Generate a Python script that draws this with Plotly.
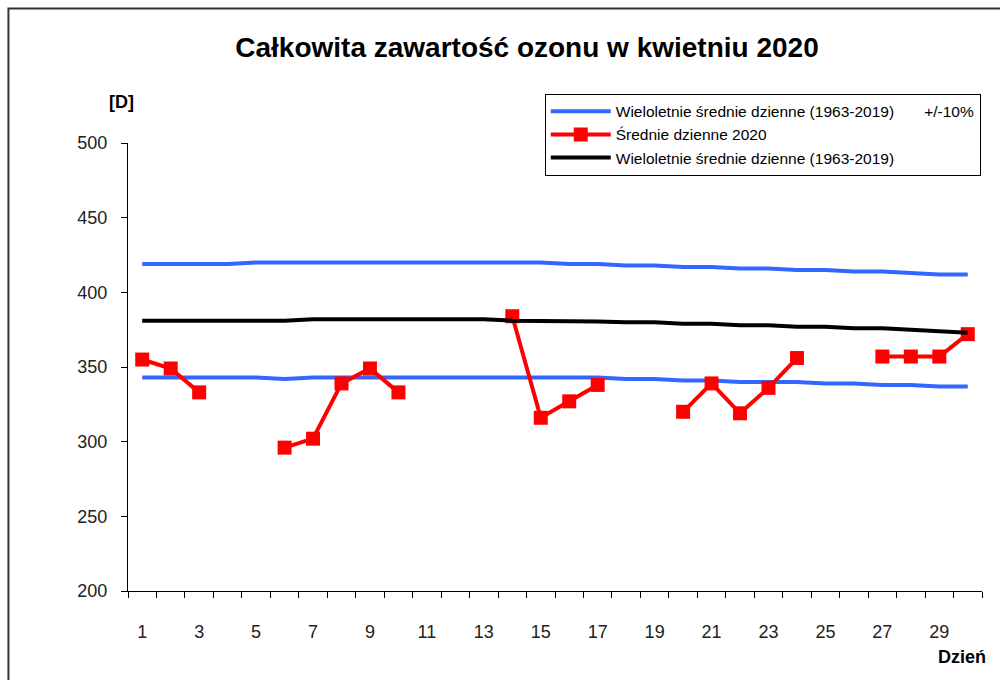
import plotly.graph_objects as go

# Daily total ozone, April 2020 (Dobson units)
days = list(range(1, 31))
daily_2020 = [355, 349, 333, None, None, 296, 302, 339, 349, 333,
              None, None, None, 384, 316, 327, 338, None, None, 320,
              339, 319, 336, 356, None, None, 357, 357, 357, 372]
longterm_mean = [381, 381, 381, 381, 381, 381, 382, 382, 382, 382,
                 382, 382, 382, 381, 381, 381, 380.5, 380, 380, 379,
                 379, 378, 378, 377, 377, 376, 376, 375, 374, 373]
upper_10 = [419, 419, 419, 419, 420, 420, 420, 420, 420, 420,
            420, 420, 420, 420, 420, 419, 419, 418, 418, 417,
            417, 416, 416, 415, 415, 414, 414, 413, 412, 412]
lower_10 = [343, 343, 343, 343, 343, 342, 343, 343, 343, 343,
            343, 343, 343, 343, 343, 343, 343, 342, 342, 341,
            341, 340, 340, 340, 339, 339, 338, 338, 337, 337]
x_ticks = list(range(1, 30, 2))

blue = '#3366ff'
font = 'Liberation Sans, Arial, sans-serif'

fig = go.Figure()
fig.add_trace(go.Scatter(x=days, y=upper_10, mode='lines', line=dict(color=blue, width=4),
                         name='Wieloletnie średnie dzienne (1963-2019)       +/-10%', legendgroup='b'))
fig.add_trace(go.Scatter(x=days, y=lower_10, mode='lines', line=dict(color=blue, width=4),
                         showlegend=False, legendgroup='b'))
fig.add_trace(go.Scatter(x=days, y=daily_2020, mode='lines+markers',
                         line=dict(color='#ff0000', width=4),
                         marker=dict(symbol='square', size=14, color='#ff0000'),
                         connectgaps=False, name='Średnie dzienne 2020'))
fig.add_trace(go.Scatter(x=days, y=longterm_mean, mode='lines', line=dict(color='black', width=4),
                         name='Wieloletnie średnie dzienne (1963-2019)'))

fig.update_layout(
    width=1000, height=680,
    margin=dict(l=128, r=18, t=143, b=89),
    paper_bgcolor='white', plot_bgcolor='white',
    font=dict(family=font, color='#222'),
    title=dict(text='<b>Całkowita zawartość ozonu w kwietniu 2020</b>',
               x=0.527, xanchor='center', y=0.931, yanchor='middle',
               font=dict(size=28, color='black')),
    legend=dict(x=0.488, y=1.11, xanchor='left', yanchor='top',
                bordercolor='black', borderwidth=1, bgcolor='white',
                font=dict(size=15.5, color='black'), tracegroupgap=0,
                itemwidth=60),
    xaxis=dict(range=[0.5, 30.5], tickvals=x_ticks, ticks='', showgrid=False,
               zeroline=False, showline=True, linecolor='black', linewidth=1,
               ticklabelstandoff=24, tickfont=dict(size=18, color='#222'),
               minor=dict(tickvals=[d + 0.5 for d in [0] + days], ticks='outside',
                          ticklen=6, tickcolor='black', showgrid=False)),
    yaxis=dict(range=[200, 500], dtick=50, ticks='outside', ticklen=6, tickcolor='black',
               showgrid=False, zeroline=False, showline=True, linecolor='black', linewidth=1,
               ticklabelstandoff=10, tickfont=dict(size=18, color='#222')),
)

fig.add_annotation(text='<b>[D]</b>', xref='paper', yref='paper', x=-0.008, y=1.091,
                   xanchor='center', yanchor='middle', showarrow=False,
                   font=dict(size=18, color='black'))
fig.add_annotation(text='<b>Dzień</b>', xref='paper', yref='paper', x=1.007, y=-0.148,
                   xanchor='right', yanchor='middle', showarrow=False,
                   font=dict(size=18, color='black'))

# outer chart frame (runs off the right and bottom edges)
fig.add_shape(type='rect', xref='paper', yref='paper', x0=-0.140, x1=1.05, y0=-0.3, y1=1.300,
              line=dict(color='#333', width=2), layer='below')

fig.write_html('out.html', config={'displayModeBar': False},
               post_script="document.body.style.margin='0';")
